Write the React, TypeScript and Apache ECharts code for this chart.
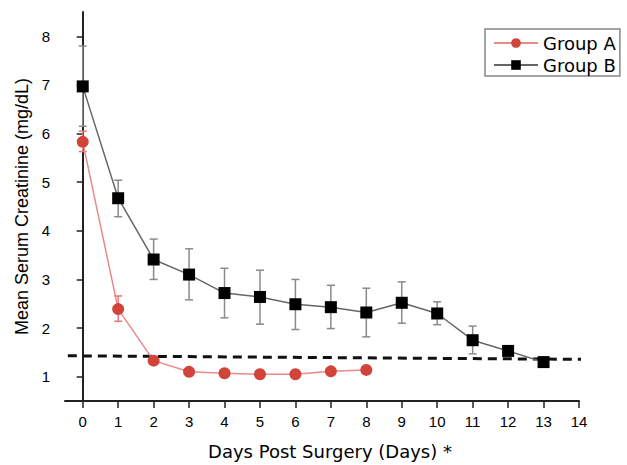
import React, { useEffect, useRef } from "react";
import * as echarts from "echarts";

const days = [0, 1, 2, 3, 4, 5, 6, 7, 8, 9, 10, 11, 12, 13];
const groupAMean = [5.83, 2.39, 1.33, 1.1, 1.07, 1.05, 1.05, 1.11, 1.14];
const groupALow = [5.63, 2.14, 1.27, 1.07, 1.04, 1.02, 1.02, 1.08, 1.11];
const groupAHigh = [6.05, 2.66, 1.39, 1.13, 1.1, 1.08, 1.08, 1.14, 1.17];
const groupBMean = [6.97, 4.67, 3.41, 3.1, 2.72, 2.64, 2.49, 2.43, 2.32, 2.52, 2.3, 1.75, 1.53, 1.3];
const groupBLow = [6.15, 4.29, 3.0, 2.58, 2.21, 2.08, 1.97, 1.99, 1.82, 2.1, 2.07, 1.47, 1.47, 1.28];
const groupBHigh = [7.8, 5.04, 3.83, 3.63, 3.23, 3.19, 3.0, 2.88, 2.82, 2.95, 2.54, 2.04, 1.6, 1.32];
const referenceLine = [
  [-0.42, 1.43],
  [15.36, 1.35],
];
const xTicks = [0, 1, 2, 3, 4, 5, 6, 7, 8, 9, 10, 11, 12, 13, 14];
const yTicks = [1, 2, 3, 4, 5, 6, 7, 8];

const errorSeries = (name: string, low: number[], high: number[], color: string) => ({
  type: "custom",
  name: name + " err",
  data: low.map((l, i) => [days[i], l, high[i]]),
  z: 1,
  renderItem: (params: any, api: any) => {
    const x = api.value(0);
    const lo = api.coord([x, api.value(1)]);
    const hi = api.coord([x, api.value(2)]);
    const w = 4;
    const style = { stroke: color, lineWidth: 1.5 };
    return {
      type: "group",
      children: [
        { type: "line", shape: { x1: lo[0], y1: lo[1], x2: hi[0], y2: hi[1] }, style },
        { type: "line", shape: { x1: lo[0] - w, y1: lo[1], x2: lo[0] + w, y2: lo[1] }, style },
        { type: "line", shape: { x1: hi[0] - w, y1: hi[1], x2: hi[0] + w, y2: hi[1] }, style },
      ],
    };
  },
});

export default function App() {
  const ref = useRef<HTMLDivElement>(null);
  useEffect(() => {
    const chart = echarts.init(ref.current!, null, { renderer: "svg" });
    const font = "Liberation Sans, Arial, Helvetica, sans-serif";
    const wide = "DejaVu Sans, Verdana, sans-serif";
    chart.setOption({
      animation: false,
      backgroundColor: "#ffffff",
      textStyle: { fontFamily: font },
      grid: { left: 65, top: 12, width: 514, height: 396, containLabel: false },
      legend: {
        data: ["Group A", "Group B"],
        orient: "vertical",
        left: 485,
        top: 29,
        itemWidth: 44,
        itemHeight: 12,
        itemGap: 4,
        padding: [5, 4, 2, 8],
        borderColor: "#888888",
        borderWidth: 1.5,
        borderRadius: 0,
        backgroundColor: "#ffffff",
        textStyle: { fontSize: 18, color: "#000000", fontFamily: wide },
      },
      xAxis: {
        type: "value",
        min: -0.5,
        max: 14,
        name: "Days Post Surgery (Days) *",
        nameLocation: "middle",
        nameGap: 41,
        nameTextStyle: { fontSize: 18, color: "#000", fontFamily: wide, padding: [0, 0, 0, 16] },
        axisLine: { lineStyle: { color: "#222", width: 2 } },
        axisTick: { show: true, length: 7, customValues: xTicks, lineStyle: { color: "#222", width: 1.5 } },
        axisLabel: { customValues: xTicks, fontSize: 15, color: "#000", margin: 13 },
        splitLine: { show: false },
      },
      yAxis: {
        type: "value",
        min: 0.5,
        max: 8.5,
        name: "Mean Serum Creatinine (mg/dL)",
        nameLocation: "middle",
        nameGap: 34,
        nameTextStyle: { fontSize: 18, color: "#000" },
        axisLine: { show: true, lineStyle: { color: "#222", width: 2 } },
        axisTick: { show: true, length: 6, customValues: yTicks, lineStyle: { color: "#222", width: 1.5 } },
        axisLabel: { customValues: yTicks, fontSize: 15, color: "#000", margin: 15 },
        splitLine: { show: false },
      },
      series: [
        errorSeries("Group B", groupBLow, groupBHigh, "#8a8a8a"),
        errorSeries("Group A", groupALow, groupAHigh, "#e07a7a"),
        {
          name: "Reference",
          type: "line",
          data: referenceLine,
          clip: false,
          symbol: "none",
          z: 3,
          lineStyle: { color: "#111", width: 3, type: [9, 6] },
        },
        {
          name: "Group B",
          type: "line",
          data: groupBMean.map((v, i) => [days[i], v]),
          symbol: "rect",
          symbolSize: 12,
          z: 4,
          itemStyle: { color: "#000000" },
          lineStyle: { color: "#666666", width: 1.5 },
        },
        {
          name: "Group A",
          type: "line",
          data: groupAMean.map((v, i) => [days[i], v]),
          symbol: "circle",
          symbolSize: 12,
          z: 5,
          itemStyle: { color: "#d2433a" },
          lineStyle: { color: "#e68a8a", width: 1.5 },
        },
      ],
    });
    return () => chart.dispose();
  }, []);
  return (
    <div
      ref={ref}
      style={{ position: "absolute", left: 0, top: 0, width: 627, height: 465 }}
    />
  );
}
